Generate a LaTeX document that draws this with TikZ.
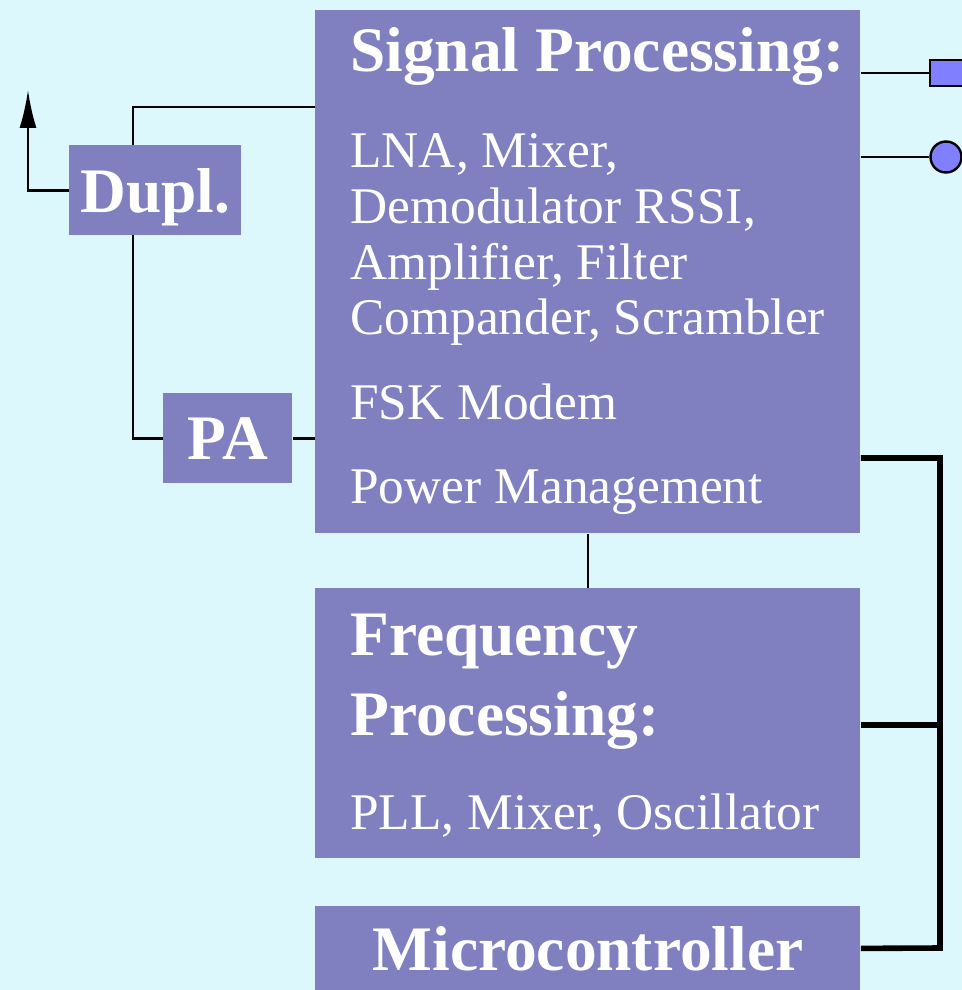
\documentclass[tikz,border=0pt]{standalone}
\usepackage{fontspec}
\setmainfont{Liberation Serif}
\usetikzlibrary{arrows.meta,positioning}
\definecolor{bgcol}{HTML}{DDF8FD}
\definecolor{boxcol}{HTML}{8080C0}
\definecolor{portcol}{HTML}{8080FF}

\begin{document}
\begin{tikzpicture}[x=0.5pt, y=-0.5pt,
  block/.style={fill=boxcol, inner sep=0pt, anchor=north west},
  label/.style={text=white, font=\fontsize{31.7}{36}\selectfont\bfseries, text depth=0pt},
  head/.style={text=white, font=\fontsize{31.7}{36}\selectfont\bfseries, anchor=base west, inner sep=0pt},
  item/.style={text=white, font=\fontsize{25.7}{28}\selectfont, anchor=base west, inner sep=0pt},
  wire/.style={black, line width=1.2pt},
  bus/.style={black, line width=2.8pt}]
\useasboundingbox (0,0) rectangle (962,990);
\clip (0,0) rectangle (962,990);
\fill[bgcol] (0,0) rectangle (962,990);

% blocks
\node[block, minimum width=272.5pt, minimum height=261.5pt] (sig) at (315,10) {};
\node[block, minimum width=64.5pt, minimum height=45pt, label] (pa) at (163,393) {PA};
\node[block, minimum width=272.5pt, minimum height=135pt] (freq) at (315,588) {};
\node[block, minimum width=272.5pt, minimum height=42pt, label] (micro) at (315,906) {Microcontroller};

% receive / transmit path
\draw[wire] (sig.west |- 0,107) -| (pa.west -| 133,0) -- (pa.west);
\node[block, minimum width=86pt, minimum height=45pt, label] (dupl) at (69,145) {Dupl.};
\draw[wire, -{Latex[length=19pt,width=8.5pt]}] (dupl.west) -| (28,90);
\draw[wire] (pa.east) -- (pa.east -| sig.west);
\draw[wire] (sig.south) -- (freq.north);

% texts
\node[head] (sighead) at (350,72) {Signal Processing:};
\node[item] (sigA) at (350,167) {LNA, Mixer,};
\node[item] (sigB) at (350,223) {Demodulator RSSI,};
\node[item] (sigC) at (350,279) {Amplifier, Filter};
\node[item] (sigD) at (350,334) {Compander, Scrambler};
\node[item] (sigE) at (350,419) {FSK Modem};
\node[item] (sigF) at (350,503) {Power Management};
\node[head] (freqheadA) at (350,655) {Frequency};
\node[head] (freqheadB) at (350,735) {Processing:};
\node[item] (freqA) at (350,829) {PLL, Mixer, Oscillator};

% ports
\node[draw, line width=1.2pt, fill=portcol, anchor=west, minimum width=20pt, minimum height=13pt, inner sep=0pt] (portsq) at (929,73) {};
\node[draw, line width=1.2pt, fill=portcol, circle, minimum size=15.5pt, inner sep=0pt] (portci) at (946,157) {};
\draw[wire] (sig.east |- portsq.west) -- (portsq.west);
\draw[wire] (sig.east |- portci.west) -- (portci.west);

% bus
\draw[bus] (sig.east |- 0,458) -- (940,458) -- (940,948) -- (micro.east);
\draw[bus] (freq.east |- 0,725) -- (940,725);
\end{tikzpicture}
\end{document}
